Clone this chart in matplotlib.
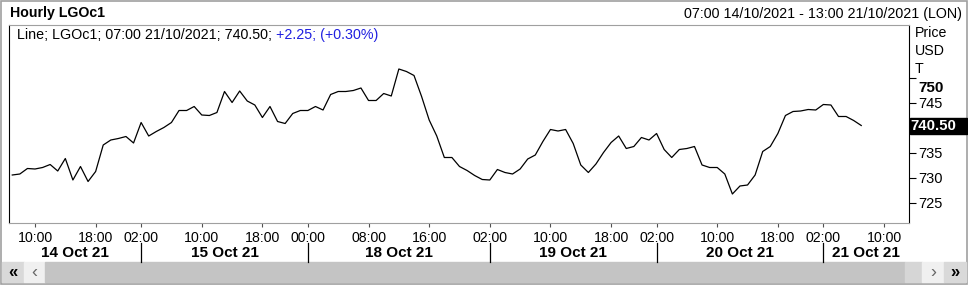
import matplotlib
matplotlib.use("Agg")
import matplotlib.pyplot as plt
from matplotlib.patches import Rectangle
import pandas as pd

plt.rcParams['font.family'] = ['Liberation Sans', 'DejaVu Sans']

# trading sessions shown on the axis: (date, first hour, last hour)
sessions = [("2021-10-14", 7, 22), ("2021-10-15", 1, 22), ("2021-10-17", 23, 23),
            ("2021-10-18", 0, 22), ("2021-10-19", 1, 22), ("2021-10-20", 1, 22),
            ("2021-10-21", 1, 13)]

# hourly LGOc1 price
price_14 = [730.6, 730.8, 731.9, 731.8, 732.1, 732.7, 731.4, 733.9, 729.6, 732.3, 729.3, 731.3,
            736.6, 737.6, 737.9, 738.3]
price_15 = [737.0, 741.1, 738.4, 739.3, 740.1, 741.1, 743.5, 743.5, 744.3, 742.6, 742.5, 743.1,
            747.3, 745.1, 747.4, 745.4, 744.6, 742.1, 744.3, 741.3, 740.9, 742.9]
price_17 = [743.5]
price_18 = [743.5, 744.3, 743.6, 746.7, 747.3, 747.3, 747.5, 748.0, 745.5, 745.5, 746.9, 746.4,
            751.8, 751.3, 750.5, 746.3, 741.6, 738.4, 734.1, 734.1, 732.3, 731.5, 730.5]
price_19 = [729.7, 729.6, 731.7, 731.1, 730.8, 731.8, 733.8, 734.6, 737.3, 739.7, 739.4, 739.7,
            736.9, 732.6, 731.1, 732.8, 735.1, 737.1, 738.4, 735.9, 736.3, 738.1]
price_20 = [737.6, 738.9, 735.7, 734.1, 735.7, 735.9, 736.3, 732.6, 732.1, 732.1, 730.8, 726.8,
            728.4, 728.6, 730.6, 735.3, 736.3, 738.9, 742.5, 743.3, 743.4, 743.7]
price_21 = [743.6, 744.7, 744.6, 742.3, 742.3, 741.5, 740.5]

tick_times = ["2021-10-14 10:00", "2021-10-14 18:00", "2021-10-15 02:00", "2021-10-15 10:00",
              "2021-10-15 18:00", "2021-10-18 00:00", "2021-10-18 08:00", "2021-10-18 16:00",
              "2021-10-19 02:00", "2021-10-19 10:00", "2021-10-19 18:00", "2021-10-20 02:00",
              "2021-10-20 10:00", "2021-10-20 18:00", "2021-10-21 02:00", "2021-10-21 10:00"]
day_breaks = ["2021-10-15 02:00", "2021-10-18 00:00", "2021-10-19 02:00",
              "2021-10-20 02:00", "2021-10-21 02:00"]
day_labels = ["14 Oct 21", "15 Oct 21", "18 Oct 21", "19 Oct 21", "20 Oct 21", "21 Oct 21"]
y_ticks = [725, 730, 735, 745]
last_price = 740.50

prices = price_14 + price_15 + price_17 + price_18 + price_19 + price_20 + price_21
bars = [pd.Timestamp(d) + pd.Timedelta(hours=h) for d, a, b in sessions for h in range(a, b + 1)]
pos = {t: i for i, t in enumerate(bars)}

W, H = 968, 286
fig = plt.figure(figsize=(W / 100, H / 100), dpi=100)

# pixel overlay for the window chrome
bg = fig.add_axes([0, 0, 1, 1])
bg.set_xlim(0, W)
bg.set_ylim(H, 0)
bg.axis('off')
bg.add_patch(Rectangle((0.5, 0.5), W - 1.5, 283, fill=False, ec='#a0a0a0', lw=1.2))
bg.text(10, 13, "Hourly LGOc1", fontsize=10.2, fontweight='bold', va='center', ha='left')
bg.text(962, 14, "07:00 14/10/2021 - 13:00 21/10/2021 (LON)", fontsize=10.3, va='center', ha='right')
for i, s in enumerate(["Price", "USD", "T"]):
    bg.text(915, 33 + 18 * i, s, fontsize=10.2, va='center', ha='left')
bg.text(918, 88, "750", fontsize=11, fontweight='bold', va='center', ha='left')
bg.add_patch(Rectangle((910, 118), 57, 16, color='black'))
bg.text(910.5, 126.5, f"{last_price:.2f}", fontsize=10.8, fontweight='bold', color='white',
        va='center', ha='left')
# scrollbar
bg.add_patch(Rectangle((2, 262), 22, 20, color='#d9d9d9'))
bg.add_patch(Rectangle((24, 262), 21, 20, color='#f0f0f0'))
bg.add_patch(Rectangle((45, 262), 860, 20, color='#c4c4c4'))
bg.add_patch(Rectangle((905, 262), 17, 20, color='#d6d6d6'))
bg.add_patch(Rectangle((922, 262), 22, 20, color='#f0f0f0'))
bg.add_patch(Rectangle((944, 262), 22, 20, color='#d9d9d9'))
bg.text(13, 272, "«", fontsize=12, fontweight='bold', ha='center', va='center')
bg.text(34, 272, "‹", fontsize=13, color='#666666', ha='center', va='center')
bg.text(933, 272, "›", fontsize=13, color='#666666', ha='center', va='center')
bg.text(955, 272, "»", fontsize=12, fontweight='bold', ha='center', va='center')

# main chart
left, right, top, bottom = 9, 909, 25, 223
ax = fig.add_axes([left / W, 1 - bottom / H, (right - left) / W, (bottom - top) / H])
ax.plot(range(len(prices)), prices, color='black', lw=0.9)
ax.set_xlim(-0.43, 118.3)
ax.set_ylim(721.0, 760.6)

ax.spines['left'].set_color('black')
ax.spines['right'].set_color('black')
ax.spines['top'].set_color('#a0a0a0')
ax.spines['bottom'].set_color('#a0a0a0')
for s in ax.spines.values():
    s.set_linewidth(0.8)

ax.yaxis.tick_right()
ax.set_yticks(y_ticks + [750])
ax.set_yticklabels([str(v) for v in y_ticks] + [""], fontsize=10.5)
ax.tick_params(axis='y', direction='out', length=5, width=0.8, pad=1.5)

xt = [pos[pd.Timestamp(t)] for t in tick_times]
ax.set_xticks(xt)
ax.set_xticklabels([pd.Timestamp(t).strftime("%H:%M") for t in tick_times], fontsize=10.2)
ax.tick_params(axis='x', direction='out', length=3, width=0.8, pad=3, color='#505050')

# day separators and labels
trans = ax.get_xaxis_transform()
breaks = [pos[pd.Timestamp(t)] for t in day_breaks]
for b in breaks:
    ax.plot([b, b], [-0.101, -0.197], color='black', lw=0.9, transform=trans, clip_on=False)
edges = [ax.get_xlim()[0]] + breaks + [ax.get_xlim()[1]]
for k, lab in enumerate(day_labels):
    ax.text((edges[k] + edges[k + 1]) / 2, -0.152, lab, transform=trans, fontsize=11,
            fontweight='bold', ha='center', va='center')

# legend line
t1 = ax.text(8 / 900, 1 - 10 / 198, "Line; LGOc1; 07:00 21/10/2021; 740.50; ", transform=ax.transAxes,
             fontsize=10.3, ha='left', va='center')
ax.annotate("+2.25; (+0.30%)", xy=(1, 0.5), xycoords=t1, fontsize=10.3, color='#2020e0',
            ha='left', va='center')

fig.savefig("out.png", dpi=100)
